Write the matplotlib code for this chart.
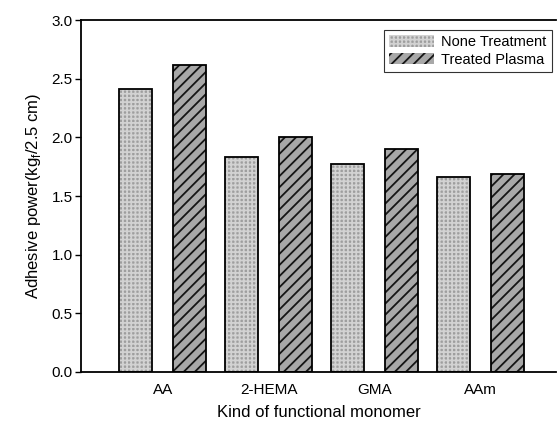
import matplotlib
matplotlib.use("Agg")
import matplotlib.pyplot as plt
import numpy as np

plt.rcParams['font.family'] = ['Liberation Sans', 'DejaVu Sans']
plt.rcParams['mathtext.fontset'] = 'custom'
plt.rcParams['mathtext.rm'] = 'Liberation Sans'
plt.rcParams['hatch.linewidth'] = 1.3

monomers = ["AA", "2-HEMA", "GMA", "AAm"]
none_treatment = [2.41, 1.83, 1.77, 1.66]
treated_plasma = [2.62, 2.00, 1.90, 1.69]
yticks = [0.0, 0.5, 1.0, 1.5, 2.0, 2.5, 3.0]

fig = plt.figure(figsize=(5.6, 4.3), dpi=100)
ax = fig.add_axes([0.145, 0.135, 0.848, 0.818])

x = np.arange(len(monomers))
w = 0.31
off = 0.255

none_fill, none_tex = '#9e9e9e', '#d2d2d2'
plasma_fill, plasma_tex = '#a8a8a8', '#151515'

# textured fills first, then crisp black outlines on top
ax.bar(x - off, none_treatment, w, color=none_fill, edgecolor=none_tex,
       hatch='++++', linewidth=0)
ax.bar(x + off, treated_plasma, w, color=plasma_fill, edgecolor=plasma_tex,
       hatch='///', linewidth=0)
ax.bar(x - off, none_treatment, w, fill=False, edgecolor='black', linewidth=1.3)
ax.bar(x + off, treated_plasma, w, fill=False, edgecolor='black', linewidth=1.3)

# legend proxies
p1 = plt.Rectangle((0, 0), 1, 1, facecolor=none_fill, edgecolor=none_tex,
                   hatch='++++', linewidth=0)
p2 = plt.Rectangle((0, 0), 1, 1, facecolor=plasma_fill, edgecolor=plasma_tex,
                   hatch='///', linewidth=0)
leg = ax.legend([p1, p2], ["None Treatment", "Treated Plasma"], loc='upper right',
                bbox_to_anchor=(1.0, 0.985), fontsize=10.5, fancybox=False,
                frameon=True, edgecolor='black', handlelength=3.1,
                handleheight=0.85, borderpad=0.35, labelspacing=0.25,
                handletextpad=0.5, borderaxespad=0.3)
leg.get_frame().set_linewidth(0.8)

ax.set_xlim(-0.77, 3.71)
ax.set_ylim(0, 3.0)
ax.set_xticks(x)
ax.set_xticklabels(monomers, fontsize=11)
ax.set_yticks(yticks)
ax.set_yticklabels([f"{t:.1f}" for t in yticks], fontsize=11)
ax.tick_params(axis='x', length=0, pad=8)
ax.tick_params(axis='y', length=4, width=1, direction='out', pad=2)

ax.spines['right'].set_visible(False)
for s in ['left', 'top', 'bottom']:
    ax.spines[s].set_linewidth(1.3)

ax.set_xlabel("Kind of functional monomer", fontsize=12, labelpad=6)
ax.set_ylabel(r"Adhesive power(kg$_\mathrm{f}$/2.5 cm)", fontsize=12, labelpad=6)

fig.savefig("out.png", dpi=100)
